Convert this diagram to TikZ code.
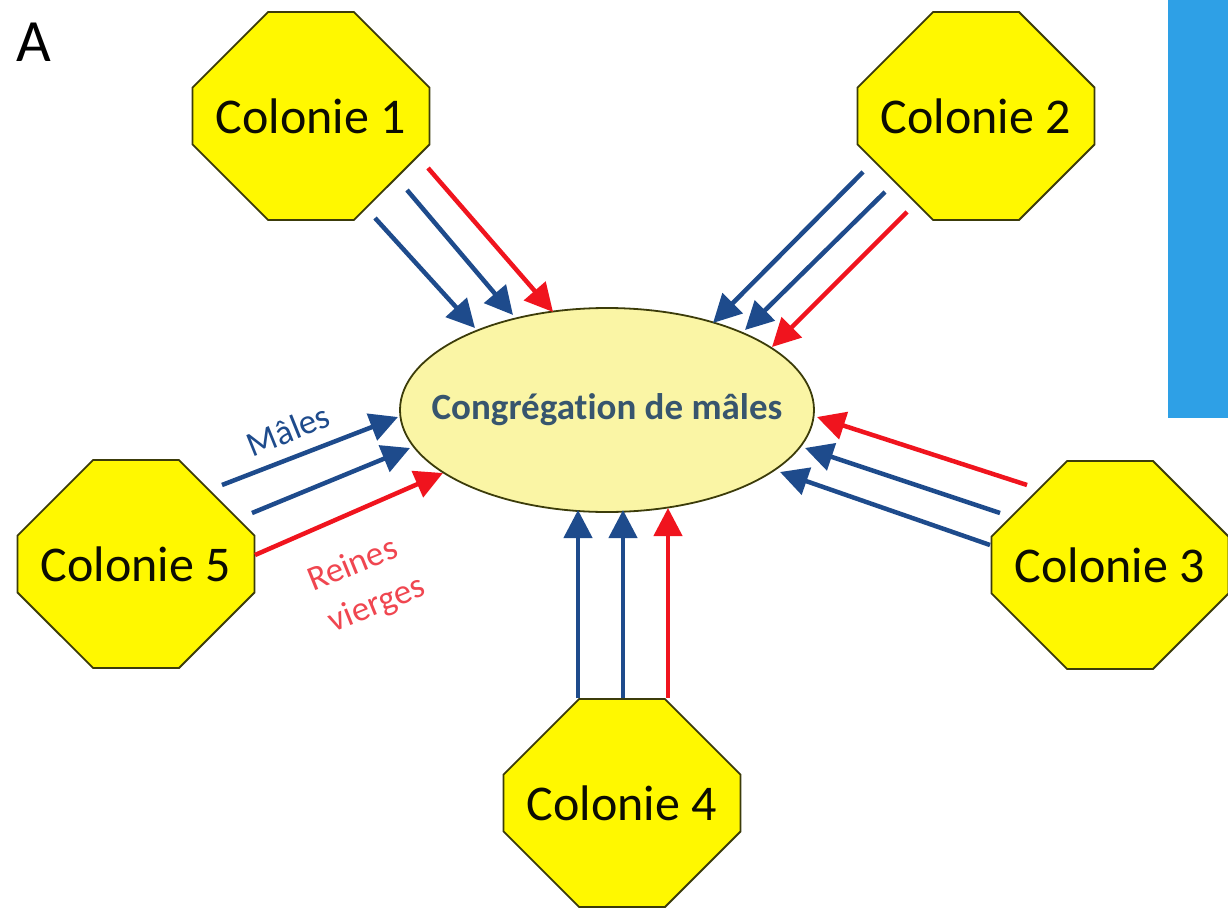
\documentclass[tikz,border=0pt]{standalone}
\usepackage{fontspec}
\setmainfont{Carlito}[Ligatures=NoCommon]
\usetikzlibrary{shapes.misc,shapes.geometric,arrows.meta,calc}
\definecolor{octfill}{RGB}{255,248,0}
\definecolor{octline}{RGB}{60,60,10}
\definecolor{ellfill}{RGB}{250,245,165}
\definecolor{congtext}{RGB}{55,85,110}
\definecolor{arrblue}{RGB}{30,75,140}
\definecolor{arrred}{RGB}{240,20,30}
\definecolor{lblred}{RGB}{240,70,80}
\definecolor{panelblue}{RGB}{46,160,230}
\begin{document}
\begin{tikzpicture}[x=1pt,y=-1pt,
  colony/.style={chamfered rectangle, chamfered rectangle sep=58pt,
    minimum width=237pt, minimum height=208pt, inner sep=0pt,
    draw=octline, line width=1.8pt, fill=octfill, text=black!80!octline,
    font=\fontsize{50}{56}\selectfont},
  cong/.style={ellipse, draw=octline, line width=1.8pt, fill=ellfill,
    minimum width=414pt, minimum height=204pt, inner sep=0pt},
  congtxt/.style={text=congtext, font=\bfseries\fontsize{37}{42}\selectfont},
  flowb/.style={draw=arrblue, line width=4.5pt, -{Triangle[length=28pt,width=28pt]}},
  flowr/.style={draw=arrred, line width=4.5pt, -{Triangle[length=28pt,width=28pt]}},
  lbl/.style={font=\fontsize{35}{40}\selectfont, inner sep=0pt}
]
\useasboundingbox (0,0) rectangle (1228,910);
\fill[white] (0,0) rectangle (1228,910);
\fill[panelblue] (1168,0) rectangle (1228,418);

\node[font=\fontsize{60}{64}\selectfont] (lblA) at (34,42) {A};

\node[cong] (E) at (607,410) {};
\node[congtxt] (Et) at (E.center) {Congrégation de mâles};
\node[colony] (c1) at (311,116) {Colonie 1};
\node[colony] (c2) at (976,116) {Colonie 2};
\node[colony] (c3) at (1110,565) {Colonie 3};
\node[colony] (c4) at (622,803) {Colonie 4};
\node[colony] (c5) at (136,564) {Colonie 5};

% Colonie 1
\draw[flowb] ($(c1)+(64,102)$) -- ($(E)+(-132,-82)$);
\draw[flowb] ($(c1)+(96,74)$) -- ($(E)+(-94,-95)$);
\draw[flowr] ($(c1)+(117,52)$) -- ($(E)+(-54,-98)$);
% Colonie 2
\draw[flowb] ($(c2)+(-113,56)$) -- ($(E)+(106,-87)$);
\draw[flowb] ($(c2)+(-91,76)$) -- ($(E)+(138,-80)$);
\draw[flowr] ($(c2)+(-69,96)$) -- ($(E)+(165,-63)$);
% Colonie 3
\draw[flowr] ($(c3)+(-83,-80)$) -- ($(E)+(210,7)$);
\draw[flowb] ($(c3)+(-110,-52)$) -- ($(E)+(198,38)$);
\draw[flowb] ($(c3)+(-120,-20)$) -- ($(E)+(173,62)$);
% Colonie 4
\draw[flowb] ($(c4)+(-44,-105)$) -- ($(E)+(-29,100)$);
\draw[flowb] ($(c4)+(1,-105)$) -- ($(E)+(16,100)$);
\draw[flowr] ($(c4)+(46,-105)$) -- ($(E)+(61,98)$);
% Colonie 5
\draw[flowb] ($(c5)+(86,-79)$) -- ($(E)+(-209,7)$);
\draw[flowb] ($(c5)+(116,-51)$) -- ($(E)+(-197,38)$);
\draw[flowr] ($(c5)+(119,-9)$) -- ($(E)+(-164,63)$);

\node[lbl, text=arrblue, rotate=22] (males) at (288,430) {Mâles};
\node[lbl, text=lblred, rotate=22] (reines) at (352,563) {Reines};
\node[lbl, text=lblred, rotate=22] (vierges) at (377,605) {vierges};
\end{tikzpicture}
\end{document}
